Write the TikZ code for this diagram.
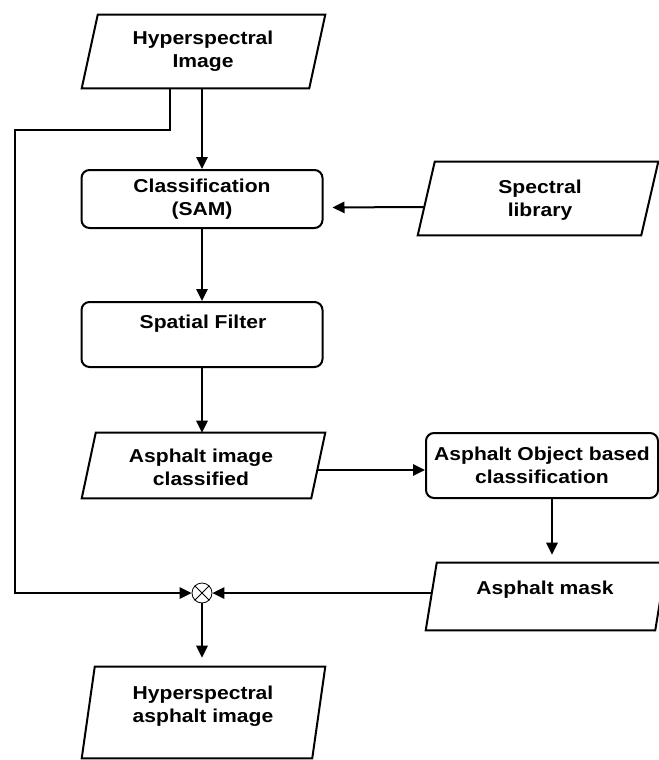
\documentclass[tikz,border=0pt]{standalone}
\usepackage{fontspec}
\setmainfont{Liberation Sans}[FakeStretch=1.13]
\usetikzlibrary{arrows.meta,calc}
\tikzset{
  box/.style={draw=none, inner sep=0pt},
  rbox/.style={draw, line width=1.5pt, rounded corners=6pt, inner sep=0pt, align=center,
    font=\fontsize{14}{17.25}\selectfont\bfseries},
  lbl/.style={font=\fontsize{14}{17.25}\selectfont\bfseries, align=center, inner sep=0pt},
  ln/.style={line width=1.5pt},
  arr/.style={line width=1.5pt, -{Triangle[length=9pt,width=8.5pt]}},
}
\newcommand\drawpara[2]{\draw[ln] ([xshift=#2]#1.north west) -- (#1.north east) -- ([xshift=-#2]#1.south east) -- (#1.south west) -- cycle;}
\begin{document}
\begin{tikzpicture}[x=0.75pt, y=-0.75pt]
\fill[white] (0,0) rectangle (659,760);
\useasboundingbox (0,0) rectangle (659,760);
\clip (0,0) rectangle (659,760);

% shapes
\node[box, minimum width=182.25pt, minimum height=54.75pt] (hi) at (203.5,51.5) {};
\drawpara{hi}{12pt}
\node[lbl] (hit) at (203,51.5) {Hyperspectral\\Image};

\node[rbox, minimum width=180.75pt, minimum height=43.5pt] (cls) at (202,199) {Classification\\(SAM)};

\node[box, minimum width=180pt, minimum height=54.75pt] (lib) at (538,198.5) {};
\drawpara{lib}{12.75pt}
\node[lbl] (libt) at (540,200.5) {Spectral\\library};

\node[rbox, minimum width=180.75pt, minimum height=48.75pt] (sf) at (202,334.5) {};
\node[lbl] (sft) at (203,324) {Spatial Filter};

\node[box, minimum width=182.25pt, minimum height=48.75pt] (aic) at (203.5,465.5) {};
\drawpara{aic}{10.5pt}
\node[lbl] (aict) at (201,467) {Asphalt image\\classified};

\node[rbox, minimum width=174pt, minimum height=48.75pt] (obc) at (542,465.5) {Asphalt Object based\\classification};

\node[box, minimum width=180pt, minimum height=50.25pt] (mask) at (546,596.5) {};
\drawpara{mask}{8.25pt}
\node[lbl] (maskt) at (545,590) {Asphalt mask};

\node[box, minimum width=182.25pt, minimum height=68.25pt] (bot) at (203.5,712.5) {};
\drawpara{bot}{9.75pt}
\node[lbl] (bott) at (203,706.5) {Hyperspectral\\asphalt image};

\node[circle, draw, line width=0.6pt, minimum size=15pt, inner sep=0pt] (circ) at (202,593) {};
\draw[line width=0.6pt] (circ.north west) -- (circ.south east) (circ.north east) -- (circ.south west);

\coordinate (lc) at (15,130);
\coordinate (om) at ($(obc.south)+(10,0)$);

% connectors
\draw[arr] (hi.south -| cls.north) -- (cls.north);
\draw[arr] ($(hi.south)+(-33.5,0)$) |- (lc) |- (circ.west);
\draw[arr, shorten >=6.75pt] ($(lib.west)+(6.5,8.5)$) -- ($(cls.east)+(0,8.5)$);
\draw[arr] (cls.south) -- (sf.north);
\draw[arr] (sf.south) -- (sf.south |- aic.north);
\draw[arr] ($(aic.east)+(-8,4.5)$) -- ($(obc.west)+(0,4.5)$);
\draw[arr, shorten >=6pt] (om) -- (om |- mask.north);
\draw[arr] ($(mask.west)+(6,-3.5)$) -- (circ.east);
\draw[arr, shorten >=6.75pt] (circ.south) -- (circ.south |- bot.north);
\end{tikzpicture}
\end{document}
